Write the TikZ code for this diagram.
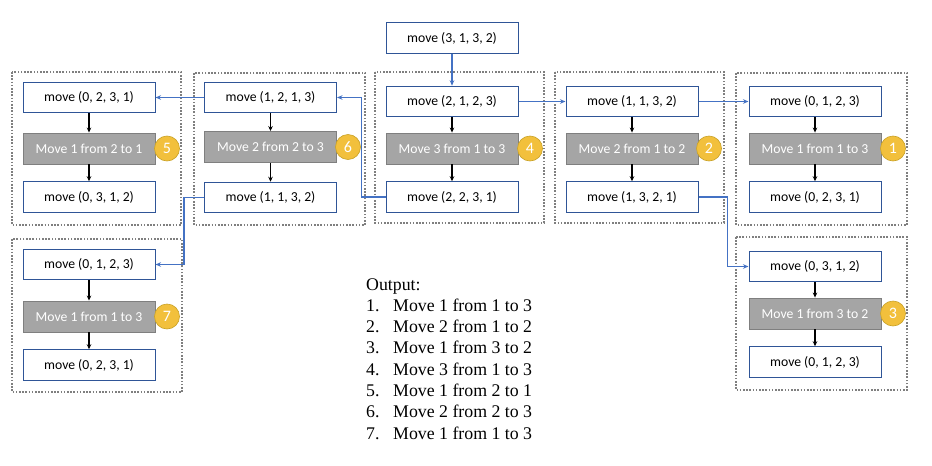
\documentclass[tikz,border=0pt]{standalone}
\usepackage{fontspec}
\setmainfont{Carlito}
\newfontfamily\listfont{Liberation Serif}
\usetikzlibrary{arrows.meta}
\definecolor{navy}{HTML}{2F5597}
\definecolor{flowblue}{HTML}{4472C4}
\definecolor{stepgray}{HTML}{A5A5A5}
\definecolor{stepedge}{HTML}{7F7F7F}
\definecolor{gold}{HTML}{F2C03C}
\definecolor{goldedge}{HTML}{C9A227}
\begin{document}
\begin{tikzpicture}[x=1pt,y=-1pt,
  callbox/.style={draw=navy,line width=1pt,fill=white,minimum width=132pt,minimum height=30.5pt,inner sep=0pt,font=\fontsize{13.7}{15}\selectfont},
  stepbox/.style={draw=stepedge,line width=0.9pt,fill=stepgray,text=white,minimum width=132pt,minimum height=31pt,inner sep=0pt,font=\fontsize{13.7}{15}\selectfont},
  badge/.style={circle,draw=goldedge,line width=0.6pt,fill=gold,text=white,minimum size=25pt,inner sep=0pt,font=\fontsize{16}{18}\selectfont},
  group/.style={draw=stepedge,line width=1.5pt,dash pattern=on 1.6pt off 1.6pt},
  down/.style={-{Stealth[length=5pt,width=4.5pt]},line width=1.6pt,black},
  flow/.style={-{Stealth[length=5.5pt,width=4.5pt]},line width=1.8pt,draw=flowblue},
  outline/.style={anchor=base west,inner sep=0pt,font=\listfont\fontsize{17.8}{21}\selectfont}]
\useasboundingbox (0,0) rectangle (932,466);

% dotted group frames
\draw[group] (12,72) rectangle (181,225);
\draw[group] (194,73) rectangle (365,225);
\draw[group] (375,72) rectangle (544,223);
\draw[group] (555,72) rectangle (724,223);
\draw[group] (736,73) rectangle (907,225);
\draw[group] (12,239) rectangle (182,392);
\draw[group] (736,237) rectangle (907,390);

% initial call
\node[callbox] (t) at (452,38) {move (3, 1, 3, 2)};

% column: move (2,1,2,3)
\node[callbox] (a1) at (452,101.5) {move (2, 1, 2, 3)};
\node[stepbox] (a2) at (452,148.5) {Move 3 from 1 to 3};
\node[callbox] (a3) at (452,197) {move (2, 2, 3, 1)};
\node[badge] (ba) at (530,148.5) {4};

% column: move (1,1,3,2)
\node[callbox] (b1) at (632,101.5) {move (1, 1, 3, 2)};
\node[stepbox] (b2) at (632,148.5) {Move 2 from 1 to 2};
\node[callbox] (b3) at (632,197) {move (1, 3, 2, 1)};
\node[badge] (bb) at (709,148.5) {2};

% column: move (0,1,2,3)
\node[callbox] (c1) at (815,101.5) {move (0, 1, 2, 3)};
\node[stepbox] (c2) at (815,148.5) {Move 1 from 1 to 3};
\node[callbox] (c3) at (815,197) {move (0, 2, 3, 1)};
\node[badge] (bc) at (893,148.5) {1};

% column: move (0,3,1,2)
\node[callbox] (d1) at (815,266.5) {move (0, 3, 1, 2)};
\node[stepbox] (d2) at (815,313.5) {Move 1 from 3 to 2};
\node[callbox] (d3) at (815,362) {move (0, 1, 2, 3)};
\node[badge] (bd) at (893,313.5) {3};

% column: move (1,2,1,3)
\node[callbox] (e1) at (270.5,97.5) {move (1, 2, 1, 3)};
\node[stepbox] (e2) at (270.5,147) {Move 2 from 2 to 3};
\node[callbox] (e3) at (270.5,197.5) {move (1, 1, 3, 2)};
\node[badge] (be) at (348,147) {6};

% column: move (0,2,3,1)
\node[callbox] (f1) at (89,97.5) {move (0, 2, 3, 1)};
\node[stepbox] (f2) at (89,148.5) {Move 1 from 2 to 1};
\node[callbox] (f3) at (89,197) {move (0, 3, 1, 2)};
\node[badge] (bf) at (167,148.5) {5};

% column: move (0,1,2,3), lower left
\node[callbox] (g1) at (89,264.5) {move (0, 1, 2, 3)};
\node[stepbox] (g2) at (89,316.5) {Move 1 from 1 to 3};
\node[callbox] (g3) at (89,365) {move (0, 2, 3, 1)};
\node[badge] (bg) at (167,316.5) {7};

% steps inside each frame
\foreach \c in {a,b,c,d,e,f,g}{
  \draw[down] (\c1.south) -- (\c2.north);
  \draw[down] (\c2.south) -- (\c3.north);
}

% recursive calls
\draw[flow] (t.south) -- (a1.north);
\draw[flow] (a1.east) -- (b1.west);
\draw[flow] (b1.east) -- (c1.west);
\draw[flow] (b3.east) -- ++(29,0) |- (d1.west);
\draw[flow] (a3.west) -- ++(-24,0) |- (e1.east);
\draw[flow] (e1.west) -- (f1.east);
\draw[flow] (e3.west) -- ++(-20,0) |- (g1.east);

% printed output
\node[outline] (o0) at (366,290) {Output:};
\node[outline] (o1) at (366,311.3) {\makebox[27pt][l]{1.}Move 1 from 1 to 3};
\node[outline] (o2) at (366,332.6) {\makebox[27pt][l]{2.}Move 2 from 1 to 2};
\node[outline] (o3) at (366,353.9) {\makebox[27pt][l]{3.}Move 1 from 3 to 2};
\node[outline] (o4) at (366,375.2) {\makebox[27pt][l]{4.}Move 3 from 1 to 3};
\node[outline] (o5) at (366,396.5) {\makebox[27pt][l]{5.}Move 1 from 2 to 1};
\node[outline] (o6) at (366,417.8) {\makebox[27pt][l]{6.}Move 2 from 2 to 3};
\node[outline] (o7) at (366,439.1) {\makebox[27pt][l]{7.}Move 1 from 1 to 3};
\end{tikzpicture}
\end{document}
